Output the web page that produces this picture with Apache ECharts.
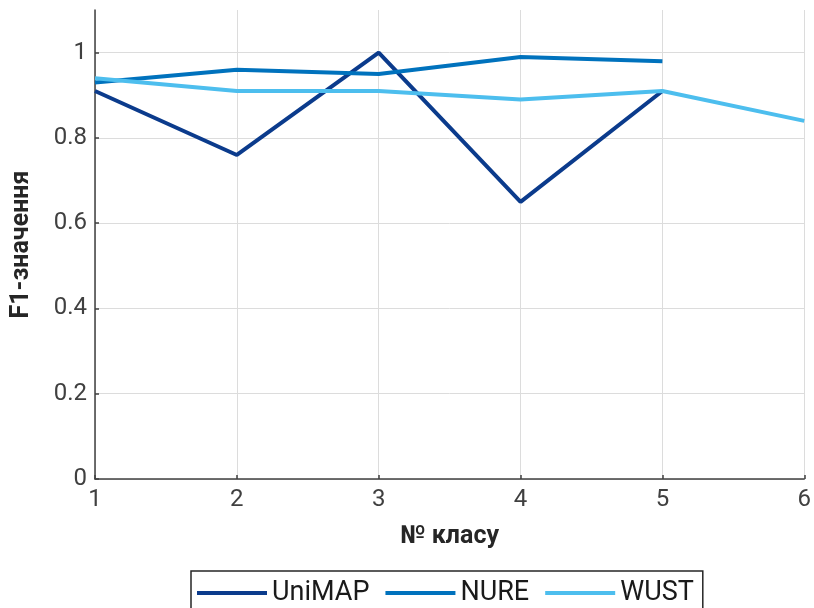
<!DOCTYPE html>
<html>
<head>
<meta charset="utf-8">
<script src="https://cdn.jsdelivr.net/npm/echarts@6/dist/echarts.min.js"></script>
<style>html,body{margin:0;padding:0;background:#fff;}#c{width:814px;height:608px;}</style>
</head>
<body>
<div id="c"></div>
<script>
const classes = [1, 2, 3, 4, 5, 6];
const uniMAP = [0.91, 0.76, 1.00, 0.65, 0.91];
const nure = [0.93, 0.96, 0.95, 0.99, 0.98];
const wust = [0.94, 0.91, 0.91, 0.89, 0.91, 0.84];
const seriesNames = ['UniMAP', 'NURE', 'WUST'];
const seriesColors = ['#0b3b8c', '#0072bd', '#4dbeee'];

const pairs = arr => arr.map((v, i) => [classes[i], v]);
const font = 'Roboto, "Liberation Sans", Arial, sans-serif';
const chart = echarts.init(document.getElementById('c'), null, {renderer: 'canvas'});
chart.setOption({
  animation: false,
  backgroundColor: '#fff',
  grid: {left: 95, right: 7, top: 10, bottom: 129, containLabel: false},
  xAxis: {
    type: 'value', min: 1, max: 6, interval: 1,
    name: '№ класу', nameLocation: 'middle', nameGap: 45,
    nameTextStyle: {fontFamily: font, fontSize: 25, fontWeight: 'bold', color: '#262626'},
    axisLine: {show: true, onZero: false, lineStyle: {color: '#404040', width: 1.5}},
    axisTick: {show: true, inside: true, length: 4, lineStyle: {color: '#404040', width: 1.5}},
    axisLabel: {fontFamily: font, fontSize: 24, color: '#404040', margin: 9},
    splitLine: {show: true, lineStyle: {color: '#dcdcdc', width: 1}}
  },
  yAxis: {
    type: 'value', min: 0, max: 1.1, interval: 0.2,
    name: 'F1-значення', nameLocation: 'middle', nameGap: 61, nameRotate: 90,
    nameTextStyle: {fontFamily: font, fontSize: 25, fontWeight: 'bold', color: '#262626'},
    axisLine: {show: true, onZero: false, lineStyle: {color: '#404040', width: 1.5}},
    axisTick: {show: true, inside: true, length: 4, lineStyle: {color: '#404040', width: 1.5}},
    axisLabel: {fontFamily: font, fontSize: 24, color: '#404040', margin: 8, showMaxLabel: false},
    splitLine: {show: true, lineStyle: {color: ['#dcdcdc','#dcdcdc','#dcdcdc','#dcdcdc','#dcdcdc','#dcdcdc','rgba(0,0,0,0)'], width: 1}}
  },
  legend: {
    data: seriesNames,
    left: 191, top: 571,
    orient: 'horizontal',
    icon: 'rect',
    itemWidth: 70, itemHeight: 4, itemGap: 16,
    padding: [8, 9, 10, 6],
    borderColor: '#262626', borderWidth: 1.5,
    textStyle: {fontFamily: font, fontSize: 27, color: '#1a1a1a', lineHeight: 28}
  },
  series: [
    {name: seriesNames[0], type: 'line', data: pairs(uniMAP), symbol: 'none', lineStyle: {width: 4, color: seriesColors[0]}, itemStyle: {color: seriesColors[0]}},
    {name: seriesNames[1], type: 'line', data: pairs(nure), symbol: 'none', lineStyle: {width: 4, color: seriesColors[1]}, itemStyle: {color: seriesColors[1]}},
    {name: seriesNames[2], type: 'line', data: pairs(wust), symbol: 'none', lineStyle: {width: 4, color: seriesColors[2]}, itemStyle: {color: seriesColors[2]}}
  ]
});
</script>
</body>
</html>
